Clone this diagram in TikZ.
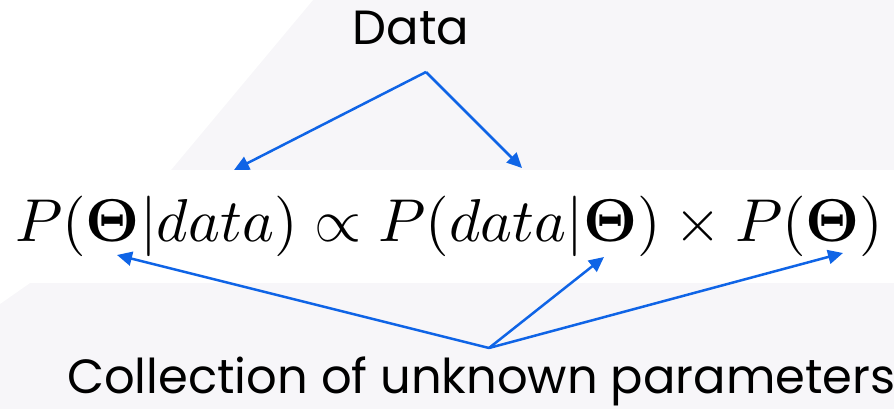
\documentclass[tikz,border=0pt]{standalone}
\usepackage{amsmath,bm}
\usepackage{fontspec}
\newfontfamily\labelfont{Poppins}
\usetikzlibrary{arrows.meta}
\definecolor{bggray}{HTML}{F7F6F9}
\definecolor{arrowblue}{HTML}{0F64E6}
\tikzset{
  lbl/.style={font=\labelfont\fontsize{48}{52}\selectfont, text=black, inner sep=0pt},
  conn/.style={draw=arrowblue, line width=2.5pt, -{Triangle[length=15pt,width=14pt]}},
}
\begin{document}
\begin{tikzpicture}[x=1pt,y=-1pt]
\useasboundingbox (0,0) rectangle (894,409);
\fill[bggray] (0,0) rectangle (894,409);
\fill[white] (0,0) -- (313,0) -- (171,170) -- (0,170) -- cycle;
\fill[white] (0,170) rectangle (894,283);
\fill[white] (0,283) -- (30,283) -- (0,304) -- cycle;
\node[lbl, anchor=base] (data) at (411,45) {Data};
\node[lbl, anchor=base west] (coll) at (67,393) {Collection of unknown parameters};
\node[inner sep=0pt, anchor=base west] (eq) at (15,241) {\resizebox{868pt}{!}{$P(\bm{\Theta}|data)\propto P(data|\bm{\Theta})\times P(\bm{\Theta})$}};
\coordinate (dtop) at (426,72);
\coordinate (cbot) at (489,348);
\coordinate (t1) at (234,170);
\coordinate (t2) at (522,168);
\coordinate (t3) at (117,255);
\coordinate (t4) at (604,257);
\coordinate (t5) at (843,253);
\draw[conn] (dtop) -- (t1);
\draw[conn] (dtop) -- (t2);
\draw[conn] (cbot) -- (t3);
\draw[conn] (cbot) -- (t4);
\draw[conn] (cbot) -- (t5);
\end{tikzpicture}
\end{document}
